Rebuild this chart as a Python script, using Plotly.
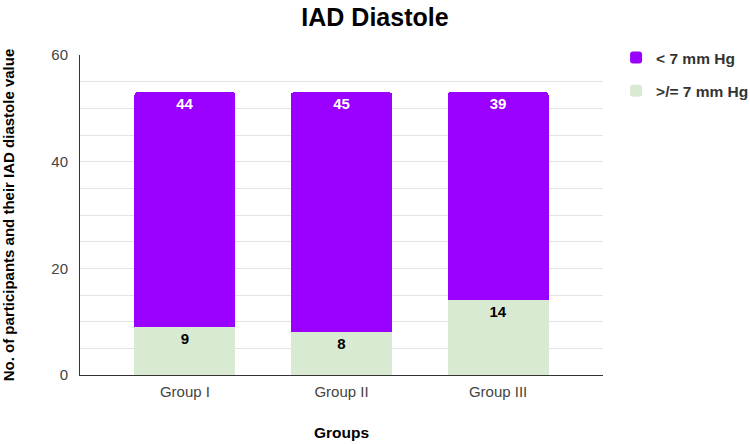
import plotly.graph_objects as go

groups = ["Group I", "Group II", "Group III"]
ge7 = [9, 8, 14]
lt7 = [44, 45, 39]
series_names = [">/= 7 mm Hg", "< 7 mm Hg"]
colors = ["#D9EAD3", "#9900FF"]

FONT = "Liberation Sans, Arial, sans-serif"

fig = go.Figure()
fig.add_trace(go.Bar(
    x=groups, y=ge7, name=series_names[0], legendgroup="ge7",
    marker=dict(color=colors[0], line=dict(width=0)),
    text=ge7, textposition="inside", insidetextanchor="end",
    textfont=dict(family=FONT, size=15, color="#000000", weight="bold"),
    width=0.645, legendrank=2,
))
fig.add_trace(go.Bar(
    x=groups, y=lt7, name=series_names[1], legendgroup="lt7",
    marker=dict(color=colors[1], line=dict(width=0)),
    text=lt7, textposition="inside", insidetextanchor="end",
    textfont=dict(family=FONT, size=15, color="#FFFFFF", weight="bold"),
    width=0.645, legendrank=1,
))

fig.update_layout(
    barmode="stack",
    barcornerradius=3,
    width=750, height=444,
    margin=dict(l=80, r=147, t=55, b=69, autoexpand=False),
    paper_bgcolor="white", plot_bgcolor="white",
    font=dict(family=FONT, size=15, color="#444444"),
    title=dict(text="<b>IAD Diastole</b>", x=0.5, xanchor="center",
               y=1 - 17/444, yanchor="middle",
               font=dict(family=FONT, size=25, color="#000000")),
    legend=dict(x=1.025, y=1.044, xanchor="left", yanchor="top",
                font=dict(family=FONT, size=15.5, color="#333333", weight="bold"),
                tracegroupgap=10, itemsizing="constant", traceorder="grouped"),
    xaxis=dict(
        range=[-0.67, 2.67], showgrid=False, showline=True, linecolor="#333333",
        linewidth=1, ticks="", tickfont=dict(size=15, color="#444444"),
        ticklabelstandoff=3, automargin=False,
        title=dict(text="<b>Groups</b>", font=dict(size=15.5, color="#000000"), standoff=28),
    ),
    yaxis=dict(
        range=[0, 60], tickvals=[0, 20, 40, 60], showline=True, linecolor="#333333",
        linewidth=1, showgrid=True, gridcolor="#E4E4E4", gridwidth=1,
        minor=dict(dtick=5, showgrid=True, gridcolor="#E4E4E4", gridwidth=1),
        tickfont=dict(size=15, color="#444444"), ticks="", ticklabelstandoff=8,
        zeroline=False, automargin=False,
        title=dict(text="<b>No. of participants and their IAD diastole value</b>",
                   font=dict(size=15, color="#000000"), standoff=36),
    ),
)

fig.write_html("out.html")
